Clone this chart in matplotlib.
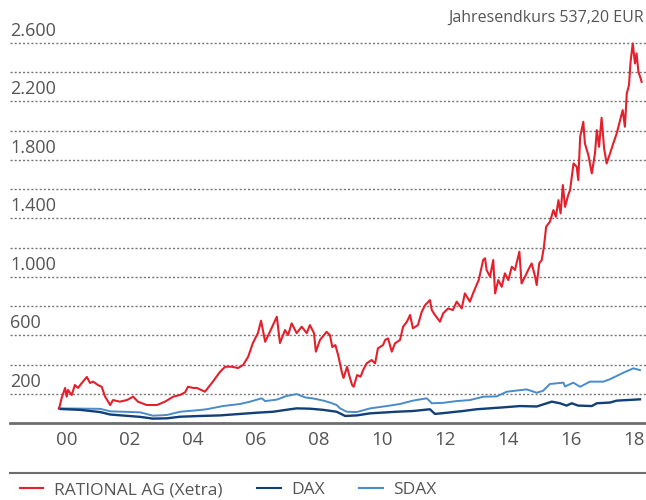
import matplotlib
matplotlib.use("Agg")
from matplotlib import pyplot as plt
from matplotlib.lines import Line2D

#index values (start = 100)
rational_years = [1999.75, 1999.83, 1999.94, 1999.99, 2000.03, 2000.15, 2000.25, 2000.35, 2000.47, 2000.63,
                  2000.73, 2000.83, 2000.98, 2001.10, 2001.21, 2001.37, 2001.46, 2001.68, 2001.90, 2002.10,
                  2002.25, 2002.53, 2002.85, 2003.11, 2003.37, 2003.59, 2003.75, 2003.84, 2004.00, 2004.12,
                  2004.38, 2004.63, 2004.86, 2005.02, 2005.23, 2005.43, 2005.59, 2005.75, 2005.90, 2006.06,
                  2006.16, 2006.29, 2006.44, 2006.66, 2006.76, 2006.92, 2007.02, 2007.13, 2007.29, 2007.45,
                  2007.61, 2007.71, 2007.84, 2007.90, 2008.03, 2008.24, 2008.35, 2008.42, 2008.52, 2008.62,
                  2008.73, 2008.78, 2008.89, 2008.97, 2009.05, 2009.10, 2009.21, 2009.32, 2009.40, 2009.51,
                  2009.67, 2009.78, 2009.87, 2010.03, 2010.10, 2010.19, 2010.31, 2010.41, 2010.57, 2010.67,
                  2010.79, 2010.89, 2010.98, 2011.14, 2011.26, 2011.37, 2011.52, 2011.58, 2011.68, 2011.84,
                  2011.94, 2012.10, 2012.25, 2012.37, 2012.53, 2012.63, 2012.79, 2012.89, 2013.00, 2013.07,
                  2013.21, 2013.27, 2013.32, 2013.43, 2013.53, 2013.59, 2013.69, 2013.80, 2013.90, 2014.01,
                  2014.12, 2014.22, 2014.36, 2014.43, 2014.54, 2014.64, 2014.75, 2014.86, 2014.91, 2014.99,
                  2015.07, 2015.14, 2015.21, 2015.33, 2015.44, 2015.52, 2015.60, 2015.67, 2015.74, 2015.81,
                  2015.91, 2015.97, 2016.08, 2016.18, 2016.23, 2016.29, 2016.39, 2016.44, 2016.55, 2016.66,
                  2016.76, 2016.82, 2016.89, 2016.97, 2017.05, 2017.13, 2017.24, 2017.34, 2017.45, 2017.56,
                  2017.64, 2017.71, 2017.77, 2017.84, 2017.89, 2017.96, 2018.03, 2018.08, 2018.14, 2018.21,
                  2018.24]
rational_values = [100, 171, 240, 180, 226, 192, 260, 240, 274, 315,
                   274, 283, 260, 248, 180, 123, 157, 146, 157, 180,
                   146, 123, 123, 146, 180, 192, 210, 248, 240, 240,
                   214, 283, 351, 385, 385, 376, 397, 453, 547, 615,
                   700, 556, 624, 727, 547, 636, 602, 682, 615, 659,
                   615, 670, 615, 488, 568, 624, 600, 520, 533, 453,
                   342, 308, 385, 317, 260, 248, 328, 317, 362, 408,
                   431, 408, 511, 533, 568, 579, 488, 545, 568, 659,
                   693, 739, 648, 670, 761, 807, 841, 773, 739, 693,
                   750, 784, 773, 830, 784, 887, 830, 887, 944, 978,
                   1115, 1127, 1047, 1001, 1115, 887, 978, 932, 1024, 978,
                   1069, 1047, 1172, 955, 1001, 1047, 1092, 1001, 944, 1092,
                   1115, 1206, 1343, 1377, 1457, 1411, 1525, 1434, 1628, 1479,
                   1559, 1594, 1776, 1753, 1662, 1958, 2061, 1913, 1833, 1708,
                   1845, 2004, 1890, 2088, 1879, 1776, 1845, 1913, 1981, 2073,
                   2141, 2027, 2255, 2312, 2471, 2597, 2460, 2529, 2403, 2358,
                   2334]

dax_years = [1999.75, 1999.78, 2000.41, 2001.05, 2001.37, 2002.32, 2002.73, 2003.17, 2003.59, 2004.22,
             2004.86, 2005.49, 2006.00, 2006.54, 2007.08, 2007.29, 2007.71, 2008.13, 2008.56, 2008.83,
             2009.20, 2009.62, 2010.46, 2010.98, 2011.52, 2011.68, 2012.05, 2012.57, 2013.00, 2013.85,
             2014.38, 2014.91, 2015.39, 2015.65, 2015.86, 2016.02, 2016.23, 2016.66, 2016.82, 2017.24,
             2017.45, 2017.87, 2018.19]
dax_values = [100, 96, 90, 75, 58, 42, 30, 32, 43, 48,
              52, 62, 70, 77, 94, 100, 98, 90, 77, 48,
              52, 66, 77, 82, 94, 62, 70, 82, 94, 107,
              116, 113, 146, 135, 119, 135, 119, 116, 135, 140,
              153, 158, 162]

sdax_years = [1999.75, 2001.05, 2001.37, 2002.32, 2002.73, 2003.17, 2003.59, 2004.22, 2004.43, 2004.95,
              2005.49, 2005.81, 2006.18, 2006.29, 2006.66, 2006.97, 2007.29, 2007.56, 2007.81, 2008.14,
              2008.35, 2008.56, 2008.67, 2008.88, 2009.20, 2009.62, 2010.15, 2010.57, 2010.98, 2011.42,
              2011.58, 2011.94, 2012.37, 2012.79, 2013.22, 2013.64, 2013.96, 2014.59, 2014.91, 2015.11,
              2015.33, 2015.76, 2015.81, 2016.07, 2016.29, 2016.60, 2017.03, 2017.24, 2017.66, 2017.98,
              2018.19]
sdax_values = [100, 97, 80, 73, 50, 55, 77, 89, 94, 116,
               130, 146, 169, 150, 160, 185, 198, 175, 168, 153,
               140, 123, 100, 77, 75, 100, 116, 130, 153, 169,
               135, 138, 150, 157, 180, 182, 214, 230, 207, 220,
               267, 276, 250, 276, 248, 283, 283, 300, 344, 374,
               362]

tick_years = [2000, 2002, 2004, 2006, 2008, 2010, 2012, 2014, 2016, 2018]
tick_labels = ["00", "02", "04", "06", "08", "10", "12", "14", "16", "18"]
grid_values = [200, 400, 600, 800, 1000, 1200, 1400, 1600, 1800, 2000, 2200, 2400, 2600]
label_values = [200, 600, 1000, 1400, 1800, 2200, 2600]
label_texts = ["200", "600", "1.000", "1.400", "1.800", "2.200", "2.600"]

red = "#e3202b"
dark_blue = "#123f78"
light_blue = "#4a8bc9"
grey = "#555555"

plt.rcParams['font.family'] = ['Open Sans', 'DejaVu Sans']

fig = plt.figure(figsize=(6.46, 5.0), dpi=100)
ax = fig.add_axes([10 / 646, 77 / 500, 636 / 646, 394.6 / 500])

#dotted grid lines, labels sit above every second one
for v in grid_values:
    ax.axhline(v, color="#777777", lw=1, linestyle=(0, (1.5, 1.5)), zorder=1)
for v, t in zip(label_values, label_texts):
    ax.text(0.0, v + 22, t, transform=ax.get_yaxis_transform(), ha="left", va="bottom",
            fontsize=13, color=grey)
ax.axhline(0, color="#6d6d6d", lw=2, zorder=4, clip_on=False)

l_sdax, = ax.plot(sdax_years, sdax_values, color=light_blue, lw=1.4, zorder=2, label="SDAX")
l_dax, = ax.plot(dax_years, dax_values, color=dark_blue, lw=1.7, zorder=3, label="DAX")
l_rat, = ax.plot(rational_years, rational_values, color=red, lw=1.5, zorder=3, label="RATIONAL AG (Xetra)")

ax.set_xlim(1998.19, 2018.38)
ax.set_ylim(0, 2700)
ax.set_xticks(tick_years)
ax.set_xticklabels(tick_labels)
ax.set_yticks([])
ax.tick_params(axis="x", length=0, pad=6, labelsize=13.5, labelcolor=grey)
for s in ax.spines.values():
    s.set_visible(False)

fig.text(644 / 646, 1 - 18 / 500, "Jahresendkurs 537,20 EUR", ha="right", va="center",
         fontsize=11.5, color=grey)

#separator line above the legend
fig.add_artist(Line2D([10 / 646, 1.0], [1 - 473 / 500, 1 - 473 / 500], color="#6d6d6d", lw=1.5))

fig.legend(handles=[l_rat, l_dax, l_sdax], loc="center left", bbox_to_anchor=(20 / 646, 1 - 490 / 500),
           ncol=3, frameon=False, fontsize=12.5, handlelength=1.35, handletextpad=0.6,
           columnspacing=2.0, borderpad=0, borderaxespad=0, labelcolor=grey)
for h in fig.legends[0].legend_handles:
    h.set_linewidth(1.5)

fig.savefig("out.png", dpi=100)
